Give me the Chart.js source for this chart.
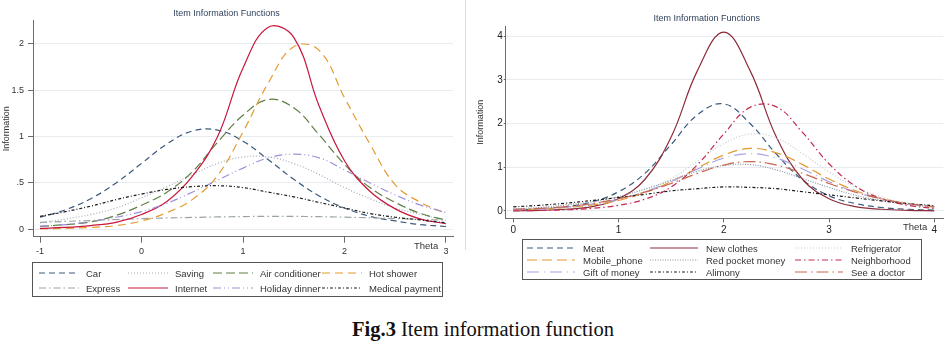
<!DOCTYPE html>
<html>
<head>
<meta charset="utf-8">
<title>Item information function</title>
<script src="https://cdn.jsdelivr.net/npm/chart.js@4.4.0/dist/chart.umd.min.js"></script>
<style>
  html, body { margin: 0; padding: 0; background: #fff; overflow: hidden; }
  #page { position: relative; width: 951px; height: 347px; font-family: "Liberation Sans", Arial, sans-serif; }
  canvas { position: absolute; top: 0; }
  .legend { position: absolute; border: 1px solid #555; box-sizing: border-box; background: #fff; }
  .item { position: absolute; display: flex; align-items: center; height: 12px; font-size: 9.5px; color: #333; white-space: nowrap; }
  .item svg { display: block; }
  .theta { position: absolute; font-size: 9.5px; color: #333; }
  #sep { position: absolute; left: 465px; top: 0; width: 1px; height: 250px; background: #dcdcdc; }
  #caption { position: absolute; left: 0; width: 966px; top: 315px; text-align: center; font-family: "Liberation Serif", "Times New Roman", serif; font-size: 20.5px; line-height: 28px; color: #111; }
</style>
</head>
<body>
<div id="page">
  <canvas id="chart-left" width="486" height="258" style="left:0;width:486px;height:258px"></canvas>
  <canvas id="chart-right" width="509" height="240" style="left:470px;width:509px;height:240px"></canvas>
  <div id="sep"></div>
  <div class="theta" style="left:414px;top:240px">Theta</div>
  <div class="theta" style="left:903px;top:221px">Theta</div>
  <div class="legend" id="legend-left" style="left:32px;top:262px;width:411px;height:35px"></div>
  <div class="legend" id="legend-right" style="left:522px;top:239px;width:400px;height:41px"></div>
  <div id="caption"><b>Fig.3</b> Item information function</div>
</div>
<script>
// ---- left panel data (theta -1..3) ----
const thetaLeft = [-1, -0.75, -0.5, -0.25, 0, 0.25, 0.5, 0.75, 1, 1.25, 1.5, 1.75, 2, 2.25, 2.5, 2.75, 3];
const leftXTicks = [-1, 0, 1, 2, 3];
const leftYTicks = [0, 0.5, 1, 1.5, 2];
const leftNames = ['Car', 'Saving', 'Air conditioner', 'Hot shower', 'Express', 'Internet', 'Holiday dinner', 'Medical payment'];

const carInfo      = [0.13, 0.21, 0.33, 0.50, 0.71, 0.92, 1.06, 1.07, 0.95, 0.75, 0.54, 0.36, 0.23, 0.14, 0.09, 0.05, 0.03];
const savingInfo   = [0.07, 0.11, 0.16, 0.23, 0.34, 0.46, 0.59, 0.71, 0.78, 0.78, 0.71, 0.59, 0.45, 0.33, 0.23, 0.16, 0.10];
const airCondInfo  = [0.03, 0.05, 0.08, 0.15, 0.26, 0.40, 0.62, 0.94, 1.23, 1.40, 1.31, 1.02, 0.70, 0.45, 0.29, 0.17, 0.10];
const hotShowerInfo = [0.005, 0.01, 0.02, 0.04, 0.09, 0.18, 0.32, 0.58, 1.05, 1.58, 1.97, 1.93, 1.42, 0.92, 0.48, 0.29, 0.17];
const expressInfo  = [0.075, 0.085, 0.095, 0.105, 0.115, 0.122, 0.128, 0.133, 0.137, 0.14, 0.139, 0.136, 0.131, 0.124, 0.116, 0.107, 0.098];
const internetInfo = [0.01, 0.02, 0.04, 0.075, 0.16, 0.30, 0.57, 1.0, 1.74, 2.18, 2.07, 1.33, 0.74, 0.41, 0.22, 0.11, 0.06];
const holidayInfo  = [0.035, 0.05, 0.085, 0.13, 0.19, 0.28, 0.40, 0.53, 0.66, 0.77, 0.81, 0.77, 0.64, 0.50, 0.37, 0.26, 0.18];
const medicalInfo  = [0.14, 0.19, 0.25, 0.32, 0.38, 0.43, 0.46, 0.47, 0.45, 0.40, 0.35, 0.29, 0.23, 0.17, 0.13, 0.10, 0.07];

// ---- right panel data (theta 0..4) ----
const thetaRight = [0, 0.25, 0.5, 0.75, 1, 1.25, 1.5, 1.75, 2, 2.25, 2.5, 2.75, 3, 3.25, 3.5, 3.75, 4];
const rightXTicks = [0, 1, 2, 3, 4];
const rightYTicks = [0, 1, 2, 3, 4];
const rightNames = ['Meat', 'New clothes', 'Refrigerator', 'Mobile_phone', 'Red pocket money', 'Neighborhood', 'Gift of money', 'Alimony', 'See a doctor'];

const meatInfo         = [0.02, 0.05, 0.10, 0.21, 0.44, 0.86, 1.52, 2.20, 2.45, 2.00, 1.30, 0.71, 0.35, 0.17, 0.08, 0.04, 0.02];
const newClothesInfo   = [0.005, 0.014, 0.04, 0.10, 0.28, 0.72, 1.69, 3.21, 4.09, 3.21, 1.69, 0.72, 0.28, 0.10, 0.04, 0.014, 0.005];
const refrigeratorInfo = [0.02, 0.04, 0.08, 0.14, 0.25, 0.45, 0.74, 1.14, 1.54, 1.76, 1.67, 1.31, 0.89, 0.55, 0.32, 0.18, 0.10];
const mobileInfo       = [0.025, 0.045, 0.08, 0.14, 0.24, 0.42, 0.67, 0.98, 1.28, 1.43, 1.33, 1.06, 0.73, 0.47, 0.28, 0.16, 0.09];
const redPocketInfo    = [0.05, 0.08, 0.14, 0.21, 0.33, 0.50, 0.70, 0.91, 1.04, 1.06, 0.94, 0.74, 0.54, 0.36, 0.24, 0.15, 0.09];
const neighborhoodInfo = [0.006, 0.012, 0.027, 0.06, 0.13, 0.27, 0.55, 1.06, 1.76, 2.37, 2.38, 1.79, 1.08, 0.57, 0.28, 0.13, 0.06];
const giftInfo         = [0.03, 0.05, 0.09, 0.16, 0.27, 0.44, 0.67, 0.96, 1.21, 1.31, 1.21, 0.96, 0.67, 0.44, 0.27, 0.16, 0.09];
const alimonyInfo      = [0.095, 0.13, 0.18, 0.24, 0.31, 0.38, 0.46, 0.51, 0.55, 0.54, 0.51, 0.44, 0.37, 0.30, 0.23, 0.17, 0.12];
const doctorInfo       = [0.04, 0.06, 0.10, 0.17, 0.28, 0.43, 0.63, 0.86, 1.05, 1.13, 1.05, 0.86, 0.63, 0.43, 0.28, 0.17, 0.10];

// line styles (Stata-like palette)
const leftColors = ['#3a5a7c', '#a3adba', '#5f7f45', '#e59a2f', '#9aa4a4', '#c8163e', '#9d90d6', '#1a1a1a'];
const leftDashes = [[6, 4], [1, 2], [9, 4], [8, 5], [7, 3, 1.5, 3], [], [8, 3, 1, 3, 1, 3], [3, 2, 1, 2]];
const rightColors = ['#3a5a7c', '#8e2c3c', '#c5ccd4', '#e09a30', '#8894a0', '#c62a4e', '#a8a4e4', '#1a1a1a', '#c8664f'];
const rightDashes = [[6, 4], [], [1, 2], [10, 5], [1, 1.5], [6, 3, 1.5, 3], [12, 5, 1, 5], [3, 2, 1, 2], [12, 4, 1.5, 4]];

const FONT = '"Liberation Sans", Arial, sans-serif';

function fmtTick(v) {
  if (v === 0) return '0';
  const s = String(v);
  return Math.abs(v) < 1 ? s.replace(/^(-?)0\./, '$1.') : s;
}

function buildChart(id, cfg) {
  return new Chart(document.getElementById(id), {
    type: 'line',
    data: {
      datasets: cfg.values.map((vals, i) => ({
        label: cfg.names[i],
        data: cfg.theta.map((t, k) => ({ x: t, y: vals[k] })),
        borderColor: cfg.colors[i],
        borderDash: cfg.dashes[i],
        borderWidth: 1.2,
        pointRadius: 0,
        tension: 0.4,
        fill: false,
        order: cfg.values.length - i
      }))
    },
    options: {
      responsive: false,
      animation: false,
      devicePixelRatio: 1,
      layout: { padding: { left: 0, right: cfg.padRight, top: 0, bottom: 0 } },
      plugins: {
        legend: { display: false },
        tooltip: { enabled: false },
        title: {
          display: true,
          text: 'Item Information Functions',
          color: '#30435e',
          font: { family: FONT, size: 9, weight: 'normal' },
          padding: cfg.titlePad
        }
      },
      scales: {
        x: {
          type: 'linear',
          min: cfg.xMin, max: cfg.xMax,
          afterBuildTicks: s => { s.ticks = cfg.xTicks.map(v => ({ value: v })); },
          afterFit: s => { s.height = cfg.xAxisH; },
          ticks: { color: cfg.tickColor, font: { family: FONT, size: cfg.tickSize }, padding: cfg.xTickPad, maxRotation: 0, callback: fmtTick },
          grid: { drawOnChartArea: false, drawTicks: true, tickLength: cfg.xTickLen, tickColor: '#6b6b6b' },
          border: { color: '#6b6b6b', width: 1 }
        },
        y: {
          min: cfg.yMin, max: cfg.yMax,
          afterBuildTicks: s => { s.ticks = cfg.yTicks.map(v => ({ value: v })); },
          afterFit: s => { s.width = cfg.yAxisW; },
          ticks: { color: cfg.tickColor, font: { family: FONT, size: cfg.tickSize }, padding: cfg.yTickPad, callback: fmtTick },
          grid: { color: '#e8ecf0', lineWidth: 1, tickLength: cfg.yTickLen, tickColor: '#6b6b6b' },
          border: { color: '#6b6b6b', width: 1 },
          title: { display: true, text: 'Information', color: '#333', font: { family: FONT, size: 9 }, padding: { top: cfg.yTitlePad, bottom: 0 } }
        }
      }
    }
  });
}

function buildLegend(id, names, colors, dashes, cols, rowTops, sampleW, gap) {
  const box = document.getElementById(id);
  const nCols = cols.length;
  names.forEach((name, i) => {
    const item = document.createElement('div');
    item.className = 'item';
    item.style.left = cols[i % nCols] + 'px';
    item.style.top = rowTops[Math.floor(i / nCols)] + 'px';
    const dash = dashes[i].length ? dashes[i].join(' ') : 'none';
    item.innerHTML =
      `<svg width="${sampleW}" height="6"><line x1="0" y1="3" x2="${sampleW}" y2="3" stroke="${colors[i]}" stroke-width="1.2" stroke-dasharray="${dash}"/></svg>` +
      `<span style="margin-left:${gap}px">${name}</span>`;
    box.appendChild(item);
  });
}

buildChart('chart-left', {
  theta: thetaLeft, names: leftNames, colors: leftColors, dashes: leftDashes,
  values: [carInfo, savingInfo, airCondInfo, hotShowerInfo, expressInfo, internetInfo, holidayInfo, medicalInfo],
  xTicks: leftXTicks, yTicks: leftYTicks,
  xMin: -1.069, xMax: 3.069, yMin: -0.08, yMax: 2.25,
  padRight: 33, titlePad: { top: 8.6, bottom: 1.3 },
  xAxisH: 21.3, yAxisW: 33, xTickLen: 6, yTickLen: 5, xTickPad: 3, yTickPad: 4,
  tickColor: '#333', tickSize: 9, yTitlePad: 1.5
});

buildChart('chart-right', {
  theta: thetaRight, names: rightNames, colors: rightColors, dashes: rightDashes,
  values: [meatInfo, newClothesInfo, refrigeratorInfo, mobileInfo, redPocketInfo, neighborhoodInfo, giftInfo, alimonyInfo, doctorInfo],
  xTicks: rightXTicks, yTicks: rightYTicks,
  xMin: -0.072, xMax: 4.086, yMin: -0.167, yMax: 4.23,
  padRight: 35.7, titlePad: { top: 13.6, bottom: 1.6 },
  xAxisH: 21.7, yAxisW: 35.7, xTickLen: 4, yTickLen: 2, xTickPad: 2, yTickPad: 1,
  tickColor: '#222', tickSize: 10, yTitlePad: 5.6
});

buildLegend('legend-left', leftNames, leftColors, leftDashes, [6, 95, 180, 289], [4, 19], 40, 7);
buildLegend('legend-right', rightNames, rightColors, rightDashes, [4, 127, 272], [2, 14, 26], 48, 8);
</script>
</body>
</html>
